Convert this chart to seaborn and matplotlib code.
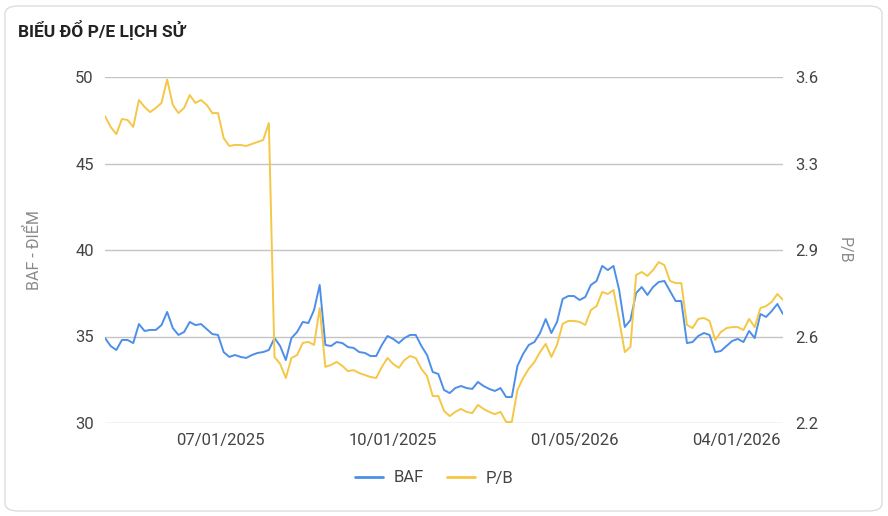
import numpy as np
import pandas as pd
import matplotlib
matplotlib.use("Agg")
import matplotlib.pyplot as plt
from matplotlib.patches import FancyBboxPatch
from matplotlib.lines import Line2D
import matplotlib.dates as mdates
import seaborn as sns

# ---------------- data ----------------
start_date = "2025-05-01"
step_days = 3

baf = [34.91, 34.45, 34.22, 34.80, 34.80, 34.62, 35.72, 35.32, 35.38, 35.38,
       35.66, 36.42, 35.49, 35.09, 35.26, 35.84, 35.66, 35.72, 35.43, 35.14,
       35.09, 34.10, 33.82, 33.93, 33.82, 33.76, 33.93, 34.05, 34.10, 34.22,
       34.91, 34.45, 33.64, 34.91, 35.26, 35.84, 35.78, 36.53, 37.98, 34.51,
       34.45, 34.68, 34.62, 34.39, 34.34, 34.10, 34.05, 33.87, 33.87, 34.51,
       35.03, 34.86, 34.62, 34.91, 35.09, 35.09, 34.45, 33.93, 32.95, 32.83,
       31.91, 31.73, 32.02, 32.14, 32.02, 31.97, 32.37, 32.14, 31.97, 31.85,
       32.02, 31.50, 31.50, 33.30, 33.99, 34.51, 34.68, 35.20, 36.01, 35.20,
       35.84, 37.17, 37.34, 37.34, 37.11, 37.28, 37.98, 38.21, 39.08, 38.84,
       39.08, 37.69, 35.55, 35.95, 37.51, 37.86, 37.40, 37.86, 38.15, 38.21,
       37.63, 37.05, 37.05, 34.62, 34.68, 35.03, 35.20, 35.09, 34.10, 34.16,
       34.45, 34.74, 34.86, 34.68, 35.32, 34.91, 36.30, 36.13, 36.47, 36.88,
       36.30]

pb = [3.442, 3.398, 3.369, 3.430, 3.426, 3.398, 3.507, 3.479, 3.458, 3.475,
      3.495, 3.590, 3.487, 3.454, 3.475, 3.527, 3.495, 3.507, 3.487, 3.454,
      3.454, 3.353, 3.321, 3.325, 3.325, 3.321, 3.329, 3.337, 3.345, 3.414,
      2.467, 2.439, 2.382, 2.463, 2.475, 2.524, 2.528, 2.516, 2.665, 2.427,
      2.435, 2.447, 2.431, 2.410, 2.414, 2.402, 2.394, 2.386, 2.382, 2.427,
      2.463, 2.439, 2.423, 2.455, 2.471, 2.463, 2.419, 2.390, 2.309, 2.309,
      2.249, 2.228, 2.245, 2.257, 2.245, 2.240, 2.273, 2.257, 2.245, 2.236,
      2.245, 2.204, 2.204, 2.334, 2.382, 2.419, 2.447, 2.487, 2.520, 2.467,
      2.516, 2.601, 2.613, 2.613, 2.609, 2.597, 2.657, 2.673, 2.730, 2.722,
      2.738, 2.617, 2.487, 2.508, 2.799, 2.811, 2.795, 2.819, 2.851, 2.839,
      2.775, 2.766, 2.766, 2.597, 2.584, 2.621, 2.625, 2.613, 2.536, 2.568,
      2.584, 2.588, 2.588, 2.576, 2.621, 2.588, 2.665, 2.673, 2.690, 2.722,
      2.698]

left_ticks = [30, 35, 40, 45, 50]
right_ticks = [2.2, 2.55, 2.9, 3.25, 3.6]
right_tick_labels = ["2.2", "2.6", "2.9", "3.3", "3.6"]
x_tick_dates = ["2025-07-01", "2025-10-01", "2026-01-05", "2026-04-01"]

dates = pd.date_range(start_date, periods=len(baf), freq=f"{step_days}D")
df = pd.DataFrame({"date": dates, "BAF": baf, "P/B": pb})

# ---------------- style ----------------
sns.set_theme(style="white")
plt.rcParams["font.family"] = ["Roboto", "DejaVu Sans"]

blue = "#4d8fe8"
yellow = "#f5c746"
tick_color = "#444444"
title_color = "#8a8a8a"

fig = plt.figure(figsize=(8.88, 5.16), dpi=100)
fig.patch.set_facecolor("white")

card = FancyBboxPatch((5 / 888, 5 / 516), 877 / 888, 505 / 516,
                      boxstyle="round,pad=0,rounding_size=0.015",
                      transform=fig.transFigure, facecolor="white",
                      edgecolor="#dddddd", linewidth=1.0, zorder=-10)
fig.patches.append(card)

ax = fig.add_axes([105 / 888, 93 / 516, 678 / 888, 346 / 516])
ax.set_facecolor("none")
ax2 = ax.twinx()
ax2.set_facecolor("none")

sns.lineplot(data=df, x="date", y="BAF", ax=ax, color=blue, linewidth=1.4)
sns.lineplot(data=df, x="date", y="P/B", ax=ax2, color=yellow, linewidth=1.4)

ax.set_xlim(dates[0], dates[-1])
ax.set_ylim(30, 50)
ax2.set_ylim(2.2, 3.6)

ax.set_yticks(left_ticks)
ax.set_yticklabels([str(t) for t in left_ticks])
ax2.set_yticks(right_ticks)
ax2.set_yticklabels(right_tick_labels)

ax.set_xticks(pd.to_datetime(x_tick_dates))
ax.xaxis.set_major_formatter(mdates.DateFormatter("%m/%d/%Y"))

ax.grid(axis="y", color="#c4c4c4", linewidth=1.0)
ax.grid(axis="x", visible=False)
ax2.grid(False)
ax.set_axisbelow(True)

for a in (ax, ax2):
    for s in a.spines.values():
        s.set_visible(False)
    a.tick_params(axis="both", length=0, labelsize=12, colors=tick_color)
ax.tick_params(axis="y", pad=8)
ax2.tick_params(axis="y", pad=9)
ax.tick_params(axis="x", pad=7)

ax.set_xlabel("")
ax.set_ylabel("BAF - ĐIỂM", color=title_color, fontsize=11.5, labelpad=24)
ax2.set_ylabel("P/B", color=title_color, fontsize=11.5, rotation=270, labelpad=24)

fig.text(18 / 888, 1 - 30 / 516, "BIỂU ĐỔ P/E LỊCH SỬ", fontsize=12.5,
         fontweight="bold", color="#222222", va="center", ha="left")

handles = [Line2D([0], [0], color=blue, lw=2),
           Line2D([0], [0], color=yellow, lw=2)]
fig.legend(handles, ["BAF", "P/B"], loc="center", ncol=2,
           bbox_to_anchor=(434 / 888, 1 - 478 / 516), frameon=False,
           fontsize=12, handlelength=1.7, handletextpad=0.6,
           columnspacing=1.4, labelcolor=tick_color)

fig.savefig("out.png", dpi=100, facecolor="white")
